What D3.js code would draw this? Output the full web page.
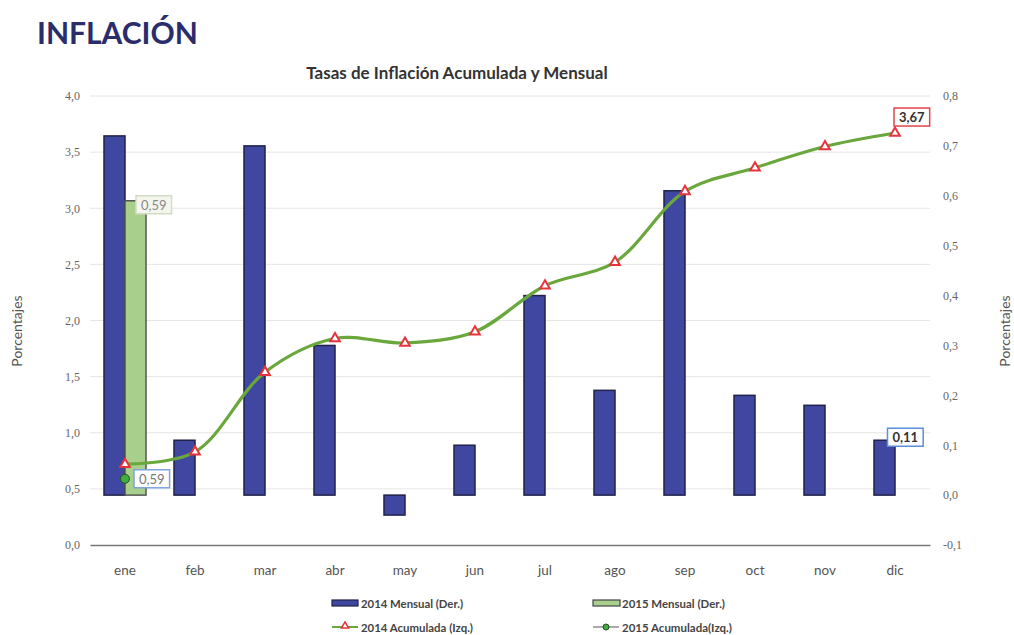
<!DOCTYPE html>
<html>
<head>
<meta charset="utf-8">
<script src="https://cdn.jsdelivr.net/npm/d3@7"></script>
<style>
  html, body { margin: 0; padding: 0; background: #fff; }
  svg { display: block; }
</style>
</head>
<body>
<svg id="chart" width="1014" height="635"></svg>
<script>
// Monthly and cumulative inflation, 2014 and 2015
const months = ["ene", "feb", "mar", "abr", "may", "jun", "jul", "ago", "sep", "oct", "nov", "dic"];
const mensual2014 = [0.72, 0.11, 0.70, 0.30, -0.04, 0.10, 0.40, 0.21, 0.61, 0.20, 0.18, 0.11];
const mensual2015 = [0.59];
const acumulada2014 = [0.72, 0.83, 1.54, 1.84, 1.80, 1.90, 2.31, 2.52, 3.15, 3.36, 3.55, 3.67];
const acumulada2015 = [0.59];
const leftTicks = [0, 0.5, 1, 1.5, 2, 2.5, 3, 3.5, 4];
const rightTicks = [-0.1, 0, 0.1, 0.2, 0.3, 0.4, 0.5, 0.6, 0.7, 0.8];
const seriesKeys = ["2014", "2015"];

const svg = d3.select("#chart");
const plot = { left: 90, right: 930, top: 96, bottom: 545 };
const sans = "Lato, 'Open Sans', sans-serif";
const serif = "'Liberation Serif', 'DejaVu Serif', serif";
const fmt = v => d3.format(".1f")(v).replace(".", ",").replace("−", "-");
const fmt2 = v => d3.format(".2f")(v).replace(".", ",");

const x0 = d3.scaleBand().domain(months).range([plot.left, plot.right]).padding(0);
const x1 = d3.scaleBand().domain(seriesKeys).range([x0.bandwidth() * 0.2, x0.bandwidth() * 0.8]).padding(0);
const yL = d3.scaleLinear().domain([0, 4]).range([plot.bottom, plot.top]);
const yR = d3.scaleLinear().domain([-0.1, 0.8]).range([plot.bottom, plot.top]);
const cx = m => x0(m) + x0.bandwidth() / 2;

// Headings
svg.append("text").attr("x", 37).attr("y", 44)
  .attr("font-family", sans).attr("font-weight", 700).attr("font-size", 30)
  .attr("fill", "#2b2c6b").text("INFLACIÓN");
svg.append("text").attr("x", 457).attr("y", 79).attr("text-anchor", "middle")
  .attr("font-family", sans).attr("font-weight", 700).attr("font-size", 17)
  .attr("fill", "#333").text("Tasas de Inflación Acumulada y Mensual");

// Gridlines
svg.append("g").selectAll("line").data(leftTicks.filter(t => t > 0)).join("line")
  .attr("x1", plot.left).attr("x2", plot.right)
  .attr("y1", d => yL(d)).attr("y2", d => yL(d))
  .attr("stroke", "#e6e6e6").attr("stroke-width", 1);

// Left axis
const axL = svg.append("g").attr("transform", `translate(${plot.left},0)`)
  .call(d3.axisLeft(yL).tickValues(leftTicks).tickFormat(fmt).tickSize(0).tickPadding(10));
axL.select(".domain").remove();
axL.selectAll("text").attr("font-family", serif).attr("font-size", 12).attr("fill", "#666");

// Right axis
const axR = svg.append("g").attr("transform", `translate(${plot.right},0)`)
  .call(d3.axisRight(yR).tickValues(rightTicks).tickFormat(fmt).tickSize(0).tickPadding(13));
axR.select(".domain").remove();
axR.selectAll("text").attr("font-family", serif).attr("font-size", 12).attr("fill", "#666");

// Bottom axis
const axB = svg.append("g").attr("transform", `translate(0,${plot.bottom})`)
  .call(d3.axisBottom(x0).tickSize(0).tickPadding(20));
axB.select(".domain").attr("stroke", "#777").attr("stroke-width", 1.5);
axB.selectAll("text").attr("font-family", sans).attr("font-size", 13.5).attr("fill", "#555");

// Axis titles
svg.append("text").attr("transform", "translate(22,331) rotate(-90)").attr("text-anchor", "middle")
  .attr("font-family", sans).attr("font-size", 14).attr("fill", "#555").text("Porcentajes");
svg.append("text").attr("transform", "translate(1010,331) rotate(-90)").attr("text-anchor", "middle")
  .attr("font-family", sans).attr("font-size", 14).attr("fill", "#555").text("Porcentajes");

// Monthly bars (right axis)
const barData = [];
mensual2014.forEach((v, i) => barData.push({ m: months[i], k: "2014", v }));
mensual2015.forEach((v, i) => barData.push({ m: months[i], k: "2015", v }));
const barFill = { "2014": "#3f47a0", "2015": "#a8d08c" };
const barStroke = { "2014": "#20224a", "2015": "#555" };
svg.append("g").selectAll("rect").data(barData).join("rect")
  .attr("x", d => x0(d.m) + x1(d.k))
  .attr("width", x1.bandwidth())
  .attr("y", d => Math.min(yR(d.v), yR(0)))
  .attr("height", d => Math.abs(yR(d.v) - yR(0)))
  .attr("fill", d => barFill[d.k])
  .attr("stroke", d => barStroke[d.k]).attr("stroke-width", 1.5);

// Cumulative line 2014 (left axis)
const pts2014 = acumulada2014.map((v, i) => [cx(months[i]), yL(v)]);
svg.append("path").datum(pts2014)
  .attr("d", d3.line().curve(d3.curveCatmullRom.alpha(0.5)))
  .attr("fill", "none").attr("stroke", "#6aa73c").attr("stroke-width", 3.2);
svg.append("g").selectAll("path").data(pts2014).join("path")
  .attr("transform", d => `translate(${d[0]},${d[1]})`)
  .attr("d", d3.symbol(d3.symbolTriangle, 40))
  .attr("fill", "#fff").attr("stroke", "#e8323c").attr("stroke-width", 2);

// Cumulative 2015 (left axis)
const pts2015 = acumulada2015.map((v, i) => [cx(months[i]), yL(v)]);
svg.append("g").selectAll("circle").data(pts2015).join("circle")
  .attr("cx", d => d[0]).attr("cy", d => d[1]).attr("r", 4.5)
  .attr("fill", "#3fae3f").attr("stroke", "#2d4a2d").attr("stroke-width", 1);

// Data labels
function label(x, y, text, opts) {
  const g = svg.append("g");
  const t = g.append("text").attr("x", x + 5).attr("y", y)
    .attr("font-family", sans).attr("font-size", 13)
    .attr("font-weight", opts.bold ? 700 : 400)
    .attr("fill", opts.color).attr("dominant-baseline", "central").text(text);
  const w = t.node().getComputedTextLength() + 10;
  g.insert("rect", "text").attr("x", x).attr("y", y - 9).attr("width", w).attr("height", 18)
    .attr("fill", opts.fill).attr("stroke", opts.stroke).attr("stroke-width", 1.5);
}
// 2015 monthly
{
  const m = months[0], v = mensual2015[0];
  const bx = x0(m) + x1("2015") + x1.bandwidth();
  label(bx - 10, yR(v) + 4, fmt2(v), { color: "#888", fill: "#f4f6ee", stroke: "#d3dcc6" });
}
// 2015 cumulative
label(pts2015[0][0] + 9, pts2015[0][1], fmt2(acumulada2015[0]), { color: "#777", fill: "#fff", stroke: "#7ea4df" });
// 2014 cumulative, last value
{
  const p = pts2014[pts2014.length - 1];
  label(p[0] - 1, p[1] - 16, fmt2(acumulada2014[acumulada2014.length - 1]), { color: "#333", fill: "#fff", stroke: "#e0444c", bold: true });
}
// 2014 monthly, last value
{
  const i = mensual2014.length - 1, m = months[i], v = mensual2014[i];
  const bx = x0(m) + x1("2014") + x1.bandwidth() / 2;
  label(bx + 3, yR(v) - 3, fmt2(v), { color: "#333", fill: "#fff", stroke: "#5b8fd8", bold: true });
}

// Legend
const lg = svg.append("g").attr("font-family", sans).attr("font-size", 11).attr("font-weight", 700).attr("fill", "#444");
function legendText(x, y, t, len) {
  lg.append("text").attr("x", x).attr("y", y).attr("dominant-baseline", "central")
    .attr("textLength", len).attr("lengthAdjust", "spacingAndGlyphs").text(t);
}
lg.append("rect").attr("x", 332).attr("y", 600).attr("width", 26).attr("height", 6)
  .attr("fill", barFill["2014"]).attr("stroke", barStroke["2014"]).attr("stroke-width", 1.2);
legendText(361, 603, "2014 Mensual (Der.)", 102);
lg.append("rect").attr("x", 593).attr("y", 600).attr("width", 27).attr("height", 6)
  .attr("fill", barFill["2015"]).attr("stroke", "#444").attr("stroke-width", 1.2);
legendText(622, 603, "2015 Mensual (Der.)", 103);
lg.append("line").attr("x1", 332).attr("x2", 358).attr("y1", 627).attr("y2", 627)
  .attr("stroke", "#6aa73c").attr("stroke-width", 2);
lg.append("path").attr("transform", "translate(345,626)").attr("d", d3.symbol(d3.symbolTriangle, 22))
  .attr("fill", "#fff").attr("stroke", "#e8323c").attr("stroke-width", 1.5);
legendText(361, 627, "2014 Acumulada (Izq.)", 112);
lg.append("line").attr("x1", 593).attr("x2", 619).attr("y1", 627).attr("y2", 627)
  .attr("stroke", "#aaa").attr("stroke-width", 2);
lg.append("circle").attr("cx", 606).attr("cy", 627).attr("r", 3)
  .attr("fill", "#3fae3f").attr("stroke", "#2d4a2d").attr("stroke-width", 1);
legendText(622, 627, "2015 Acumulada(Izq.)", 110);
</script>
</body>
</html>
